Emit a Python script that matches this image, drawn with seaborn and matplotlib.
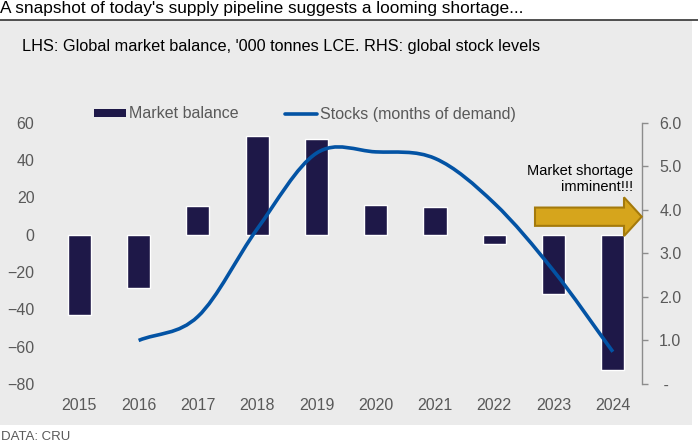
import numpy as np
import matplotlib
matplotlib.use("Agg")
import matplotlib.pyplot as plt
import seaborn as sns
from matplotlib.path import Path
from matplotlib.patches import PathPatch, Rectangle, FancyArrow
from matplotlib.lines import Line2D
from matplotlib.ticker import FuncFormatter

# data
years = ["2015", "2016", "2017", "2018", "2019", "2020", "2021", "2022", "2023", "2024"]
balance = [-43, -28.5, 15.5, 53, 51, 16, 15, -5, -32, -72.5]
stock_years = ["2016", "2017", "2018", "2019", "2020", "2021", "2022", "2023", "2024"]
stocks = [1.0, 1.55, 3.56, 5.3, 5.33, 5.18, 4.15, 2.6, 0.74]
left_ticks = [-80, -60, -40, -20, 0, 20, 40, 60]
right_ticks = [0, 1, 2, 3, 4, 5, 6]

navy = "#1e1848"
blue = "#0353a4"
gold = "#d6a51c"
grey_txt = "#595959"

sns.set_style("white")
plt.rcParams["font.family"] = ["Liberation Sans", "DejaVu Sans"]

W, H = 698, 442
fig = plt.figure(figsize=(W / 100, H / 100), dpi=100)


def fx(px):
    return px / W


def fy(py):
    return 1 - py / H


# grey panel + title rule
fig.patches.append(Rectangle((0, fy(425)), fx(691.5), fy(20) - fy(425),
                             transform=fig.transFigure, facecolor="#ebebeb",
                             edgecolor="none", zorder=-10))
fig.lines.append(Line2D([0, 1], [fy(19.5), fy(19.5)], transform=fig.transFigure,
                        color="#333333", lw=1.2))

fig.text(0.0, fy(9), "A snapshot of today's supply pipeline suggests a looming shortage...",
         fontsize=12.4, va="center", ha="left", color="black")
fig.text(fx(22), fy(47), "LHS: Global market balance, '000 tonnes LCE. RHS: global stock levels",
         fontsize=11.7, va="center", ha="left", color="black")
fig.text(fx(1), fy(437), "DATA: CRU", fontsize=9.5, va="center", ha="left", color=grey_txt)

ax = fig.add_axes([fx(49.7), fy(384), fx(642.5) - fx(49.7), fy(122.7) - fy(384)])
ax.set_facecolor("none")
sns.barplot(x=years, y=balance, color=navy, width=0.39, saturation=1, ax=ax, zorder=2)
ax.set_xlim(-0.5, 9.5)
ax.set_ylim(-80, 60)
ax.set_yticks(left_ticks)
ax.set_ylabel("")
for s in ax.spines.values():
    s.set_visible(False)
ax.tick_params(axis="y", length=0, pad=11, labelsize=11.5, labelcolor=grey_txt)
ax.tick_params(axis="x", length=0, pad=10, labelsize=11.5, labelcolor=grey_txt)

# right axis with smoothed stock line
ax2 = ax.twinx()
ax2.set_ylim(0, 6)
ax2.set_yticks(right_ticks)
ax2.yaxis.set_major_formatter(FuncFormatter(lambda v, p: " -" if v == 0 else f"{v:.1f}"))
for s in ["top", "left", "bottom"]:
    ax2.spines[s].set_visible(False)
ax2.spines["right"].set_color("#8c8c8c")
ax2.spines["right"].set_linewidth(1)
ax2.tick_params(axis="y", direction="out", length=4, width=1, color="#8c8c8c",
                pad=8, labelsize=11.5, labelcolor=grey_txt)

xs = np.array([years.index(y) for y in stock_years], dtype=float)
ys = np.array(stocks)
px = np.concatenate([[2 * xs[0] - xs[1]], xs, [2 * xs[-1] - xs[-2]]])
py = np.concatenate([[2 * ys[0] - ys[1]], ys, [2 * ys[-1] - ys[-2]]])
verts = [(xs[0], ys[0])]
codes = [Path.MOVETO]
for i in range(1, len(px) - 2):
    c1 = (px[i] + (px[i + 1] - px[i - 1]) / 6, py[i] + (py[i + 1] - py[i - 1]) / 6)
    c2 = (px[i + 1] - (px[i + 2] - px[i]) / 6, py[i + 1] - (py[i + 2] - py[i]) / 6)
    verts += [c1, c2, (px[i + 1], py[i + 1])]
    codes += [Path.CURVE4] * 3
ax2.add_patch(PathPatch(Path(verts, codes), facecolor="none", edgecolor=blue,
                        lw=2.6, capstyle="butt", zorder=3))

# legend
handles = [Rectangle((0, 0), 1, 1, facecolor=navy, edgecolor="none"),
           Line2D([], [], color=blue, lw=2.6)]
fig.legend(handles, ["Market balance", "Stocks (months of demand)"],
           loc="center left", bbox_to_anchor=(fx(94), fy(114)), ncol=2, frameon=False,
           fontsize=11.5, labelcolor=grey_txt, handlelength=2.0, handleheight=0.45,
           handletextpad=0.2, columnspacing=2.9, borderpad=0, borderaxespad=0)

# shortage arrow
fig.patches.append(FancyArrow(fx(535), fy(216.7), fx(641.7) - fx(535), 0,
                              width=18.3 / H, head_width=38.7 / H, head_length=17.7 / W,
                              length_includes_head=True, transform=fig.transFigure,
                              facecolor=gold, edgecolor="#a47a0c", lw=1.5, zorder=5))
fig.text(fx(633), fy(179), "Market shortage\nimminent!!!", fontsize=10.5,
         ha="right", va="center", color="black", linespacing=1.1)

fig.savefig("out.png", dpi=100)
